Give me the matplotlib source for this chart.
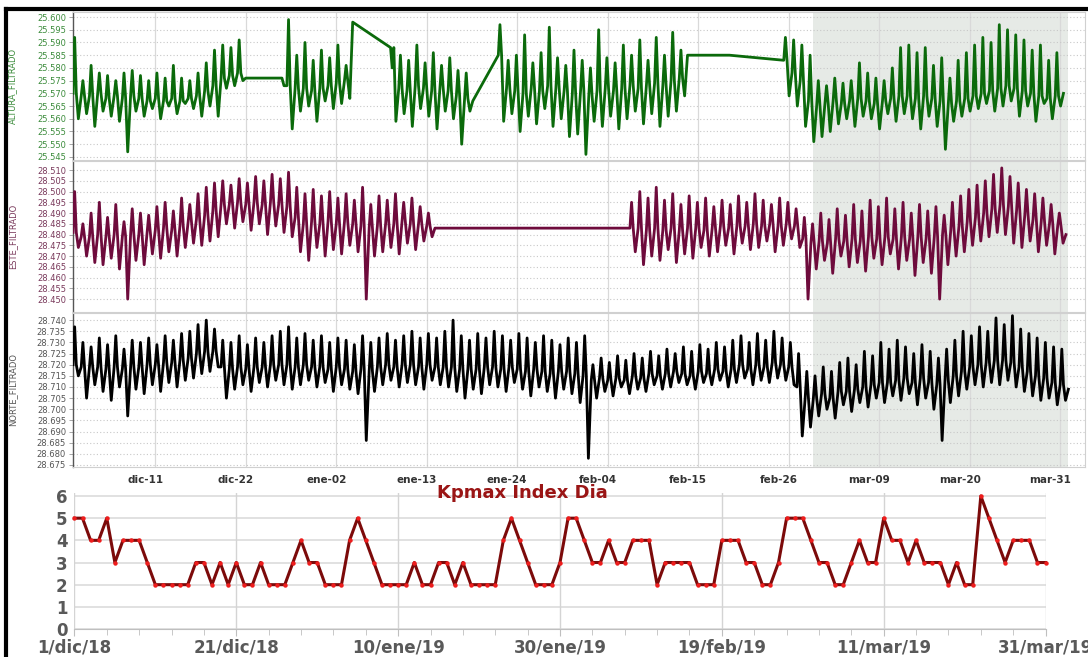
import numpy as np
import matplotlib
matplotlib.use("Agg")
import matplotlib.pyplot as plt
from matplotlib.lines import Line2D
from matplotlib.ticker import MultipleLocator
import matplotlib.transforms as mtransforms

# day 0 = 1/dic/18; values in mm above each panel's reference level.
# every segment: (start day, daily highs, daily lows, daily baseline);
# the baseline list has one extra entry, the last reading of the segment.
green_ref = 25.545
green_segments = [
    (0.0,
     [47, 30, 36, 33, 32, 30, 33, 34, 32, 30, 33, 31, 36, 31, 30, 33, 37, 42, 44, 43, 46],
     [15, 17, 12, 18, 16, 14, 2, 18, 16, 19, 15, 20, 17, 21, 19, 16, 20, 16, 27, 28, 30],
     [25, 24, 24, 25, 23, 24, 23, 24, 23, 22, 23, 22, 23, 22, 23, 24, 26, 28, 31, 32, 33, 31]),
    (25.0,
     [31, 54, 40, 45, 38, 42, 39, 44, 36],
     [28, 11, 18, 20, 14, 22, 19, 21, 23],
     [31, 28, 27, 27, 26, 27, 28, 29, 30, 53]),
    (38.6,
     [35, 40, 38, 44, 37, 41, 36, 39, 34, 33],
     [14, 17, 12, 19, 16, 11, 18, 15, 5, 18],
     [43, 27, 26, 28, 27, 26, 27, 26, 24, 23, 22]),
    (51.7,
     [52, 38, 40, 48, 37, 41, 51, 39, 36, 42, 38, 35, 50, 39, 37, 44, 40, 46, 38, 47,
      40, 49, 42],
     [14, 17, 10, 16, 13, 19, 12, 15, 8, 9, 1, 14, 12, 16, 11, 15, 18, 13, 17, 12,
      16, 18, 24],
     [40, 27, 26, 25, 27, 26, 28, 27, 26, 25, 26, 24, 26, 27, 26, 27, 28, 27, 28, 29,
      28, 30, 31, 40]),
    (79.8, [], [], [40]),
    (86.4,
     [47, 46, 44, 40, 30, 28, 31, 29, 30, 37, 33, 31, 30, 35, 43, 44, 41, 43, 36, 39,
      31, 38, 41, 44, 47, 45, 52, 50, 48, 46, 42, 44, 38, 41],
     [24, 20, 12, 6, 8, 10, 13, 15, 12, 16, 15, 11, 17, 14, 17, 15, 11, 16, 12, 3,
      14, 16, 18, 19, 21, 18, 20, 22, 16, 20, 14, 21, 15, 20],
     [38, 33, 30, 22, 20, 21, 22, 21, 22, 23, 22, 21, 22, 23, 24, 24, 23, 24, 23, 22,
      21, 22, 23, 24, 25, 26, 27, 28, 27, 26, 25, 24, 23, 24, 25]),
]

maroon_ref = 28.450
maroon_segments = [
    (0.0,
     [50, 35, 40, 45, 38, 44, 36, 42, 40, 39, 43, 45, 41, 47, 44, 49, 52, 54, 55, 53,
      56, 54, 57, 55, 58, 56, 59, 52, 49, 51, 48, 50, 47, 49, 46, 52, 44, 48, 46, 49,
      45, 47, 43, 40],
     [24, 20, 17, 16, 19, 14, 0, 18, 16, 21, 19, 22, 20, 24, 26, 25, 27, 29, 35, 33,
      36, 32, 35, 30, 34, 31, 29, 22, 18, 24, 20, 23, 21, 25, 22, 0, 20, 22, 24, 21,
      26, 23, 27, 29],
     [31, 29, 29, 30, 29, 30, 29, 30, 30, 31, 32, 33, 32, 34, 36, 37, 39, 41, 44, 44,
      45, 44, 45, 44, 45, 44, 43, 38, 35, 36, 35, 36, 35, 36, 35, 34, 33, 34, 35, 35,
      36, 35, 35, 34, 33]),
    (67.7,
     [45, 50, 47, 52, 46, 49, 44, 48, 45, 47, 43, 46, 44, 48, 45, 49, 46, 44, 47, 45,
      42, 38, 35, 40, 37, 42, 39, 44, 41, 46, 43, 47, 42, 45, 40, 44, 41, 43, 39, 45,
      48, 51, 53, 55, 58, 61, 57, 54, 51, 49, 47, 44, 40],
     [22, 16, 20, 18, 23, 17, 21, 19, 24, 20, 22, 25, 21, 26, 23, 24, 27, 22, 25, 28,
      24, 0, 14, 18, 12, 20, 15, 17, 13, 19, 16, 21, 14, 18, 11, 17, 12, 0, 16, 20,
      22, 25, 27, 29, 31, 30, 26, 24, 27, 22, 25, 21, 26],
     [33, 33, 32, 33, 32, 33, 32, 33, 33, 32, 33, 34, 33, 34, 34, 35, 34, 35, 34, 35,
      34, 28, 26, 27, 26, 28, 27, 28, 27, 29, 28, 29, 28, 29, 28, 29, 28, 29, 30, 32,
      34, 36, 38, 40, 42, 44, 43, 41, 39, 37, 36, 35, 34, 30]),
]

black_ref = 28.675
black_segments = [
    (0.0,
     [62, 55, 53, 57, 54, 58, 52, 56, 55, 57, 54, 58, 56, 59, 60, 63, 65, 61, 56, 55,
      58, 54, 57, 55, 58, 60, 62, 57, 59, 56, 58, 55, 57, 56, 54, 58, 55, 57, 59, 56,
      58, 60, 57, 59, 57, 60, 65, 58, 56, 59, 57, 60, 58, 56, 59, 57, 55, 58, 56, 54,
      57, 55, 58, 45, 48, 46, 49, 47, 50, 48, 51, 49, 52, 50, 53, 51, 54, 52, 55, 53,
      56, 58, 55, 59, 56, 60, 57, 55, 50, 42, 40, 44, 42, 46, 48, 45, 51, 49, 55, 52,
      56, 53, 50, 54, 51, 48, 52, 56, 60, 58, 62, 60, 66, 63, 67, 61, 59, 57, 55, 53,
      52],
     [40, 30, 36, 33, 29, 35, 22, 34, 32, 36, 33, 37, 35, 38, 39, 41, 42, 44, 30, 34,
      36, 33, 37, 35, 38, 36, 34, 36, 38, 35, 37, 33, 36, 34, 32, 11, 33, 36, 38, 35,
      37, 36, 34, 38, 36, 35, 33, 30, 34, 32, 36, 35, 33, 37, 34, 31, 35, 33, 30, 34,
      32, 28, 3, 30, 33, 31, 35, 32, 34, 33, 36, 34, 35, 37, 36, 34, 37, 36, 38, 35,
      37, 39, 36, 38, 37, 39, 38, 36, 13, 17, 22, 25, 21, 27, 24, 28, 26, 30, 28, 31,
      29, 32, 27, 30, 25, 11, 28, 31, 34, 36, 35, 37, 36, 38, 35, 33, 31, 29, 30, 27,
      29],
     [45, 44, 44, 44, 43, 44, 43, 44, 44, 45, 45, 46, 46, 47, 48, 50, 51, 51, 44, 43,
      44, 43, 44, 44, 45, 45, 45, 44, 45, 44, 44, 43, 44, 43, 42, 43, 42, 44, 45, 44,
      45, 45, 44, 45, 44, 44, 44, 43, 43, 43, 44, 44, 43, 44, 43, 42, 43, 42, 41, 42,
      42, 41, 40, 38, 39, 38, 39, 38, 40, 39, 41, 40, 41, 42, 41, 40, 42, 41, 43, 42,
      43, 45, 43, 45, 44, 46, 45, 44, 35, 30, 30, 32, 30, 33, 33, 34, 35, 36, 37, 37,
      38, 39, 37, 39, 37, 36, 38, 40, 42, 44, 45, 46, 47, 47, 46, 44, 42, 40, 39, 37,
      36, 34]),
]

# daily Kp max, 1/dic/18 .. 31/mar/19
kp_max = [5, 5, 4, 4, 5, 3, 4, 4, 4, 3, 2, 2, 2, 2, 2, 3, 3, 2, 3, 2,
          3, 2, 2, 3, 2, 2, 2, 3, 4, 3, 3, 2, 2, 2, 4, 5, 4, 3, 2, 2,
          2, 2, 3, 2, 2, 3, 3, 2, 3, 2, 2, 2, 2, 4, 5, 4, 3, 2, 2, 2,
          3, 5, 5, 4, 3, 3, 4, 3, 3, 4, 4, 4, 2, 3, 3, 3, 3, 2, 2, 2,
          4, 4, 4, 3, 3, 2, 2, 3, 5, 5, 5, 4, 3, 3, 2, 2, 3, 4, 3, 3,
          5, 4, 4, 3, 4, 3, 3, 3, 2, 3, 2, 2, 6, 5, 4, 3, 4, 4, 4, 3, 3]

top_tick_days = [10, 21, 32, 43, 54, 65, 76, 87, 98, 109, 120]
top_tick_labels = ['dic-11', 'dic-22', 'ene-02', 'ene-13', 'ene-24', 'feb-04',
                   'feb-15', 'feb-26', 'mar-09', 'mar-20', 'mar-31']
kp_tick_days = [0, 20, 40, 60, 80, 100, 120]
kp_tick_labels = ['1/dic/18', '21/dic/18', '10/ene/19', '30/ene/19',
                  '19/feb/19', '11/mar/19', '31/mar/19']

panels = [
    # name, segments, ref, n ticks, line colour, label colour, rect, ylim (mm)
    ('ALTURA_FILTRADO', green_segments, green_ref, 12, '#0b6a0b', '#3c8c3c',
     [0.0671, 0.7565, 0.930, 0.2253], (-1.2, 57.0)),
    ('ESTE_FILTRADO', maroon_segments, maroon_ref, 13, '#6e0b3c', '#7a3a5c',
     [0.0671, 0.5251, 0.930, 0.2298], (-6.0, 64.2)),
    ('NORTE_FILTRADO', black_segments, black_ref, 14, '#000000', '#555555',
     [0.0671, 0.2892, 0.930, 0.2344], (-0.9, 68.2)),
]

# position of baseline / high / baseline / low readings within one day
DAY_STEPS = (0.0, 0.2, 0.4, 0.65)


def join_segments(segments):
    t, v = [], []
    for start, hi, lo, base in segments:
        for k in range(len(hi)):
            for off, val in zip(DAY_STEPS, (base[k], hi[k], base[k], lo[k])):
                t.append(start + k + off)
                v.append(val)
        t.append(start + len(hi))
        v.append(base[-1])
    return np.array(t), np.array(v, dtype=float)


fig = plt.figure(figsize=(10.88, 6.57), dpi=100)

label_shift = mtransforms.ScaledTranslation(-10 / 100, 0, fig.dpi_scale_trans)
axes = []
for i, (name, segs, ref, nticks, lcol, tcol, rect, ylim) in enumerate(panels):
    ax = fig.add_axes(rect)
    axes.append(ax)
    t, v = join_segments(segs)
    ax.axvspan(90, 121, color='#e6eae6', zorder=0, lw=0)
    for d in top_tick_days:
        ax.axvline(d, color='#d9d9d9', lw=0.9, zorder=1)
    ticks_mm = np.arange(nticks) * 5
    for y in ticks_mm:
        ax.axhline(y, color='#c8c8c8', lw=0.8, ls=(0, (1, 2)), zorder=1)
    ax.plot(t, v, color=lcol, lw=2.0, zorder=3)
    ax.set_xlim(0, 123)
    ax.set_ylim(*ylim)
    ax.set_yticks(ticks_mm)
    ax.set_yticklabels(['%.3f' % (ref + m / 1000.0) for m in ticks_mm],
                       fontsize=6, color=tcol)
    ax.tick_params(axis='y', length=3, width=0.6, color='#999999', pad=2)
    ax.set_ylabel(name, fontsize=6, color=tcol)
    for side in ['top', 'right', 'bottom']:
        ax.spines[side].set_color('#d0d0d0')
        ax.spines[side].set_linewidth(0.8)
    ax.spines['left'].set_color('#555555')
    ax.spines['left'].set_linewidth(1.0)
    ax.set_xticks(top_tick_days)
    if i < 2:
        ax.tick_params(axis='x', length=0, labelbottom=False)
    else:
        ax.set_xticklabels(top_tick_labels, fontsize=7.5, fontweight='bold',
                           color='#333333')
        ax.tick_params(axis='x', length=0, pad=6)
        for lab in ax.get_xticklabels():
            lab.set_transform(lab.get_transform() + label_shift)

for ax in axes:
    ax.yaxis.set_label_coords(-0.055, 0.5)

# Kp chart
kx = fig.add_axes([0.0684, 0.0426, 0.8926, 0.2075])
days = np.arange(len(kp_max))
for y in range(0, 7):
    kx.axhline(y, color='#dcdcdc', lw=1.2, zorder=0)
for d in kp_tick_days:
    kx.axvline(d, color='#d4d4d4', lw=1.0, zorder=0)
kx.plot(days, kp_max, color='#7c0a0a', lw=2.2, zorder=3, clip_on=False)
kx.plot(days, kp_max, 'o', color='#ee1c1c', ms=3.2, mec='none', zorder=4,
        clip_on=False)
kx.set_xlim(0, 120)
kx.set_ylim(0, 6.15)
kx.set_yticks(range(0, 7))
kx.set_yticklabels([str(k) for k in range(0, 7)], fontsize=12,
                   fontweight='bold', color='#595959')
kx.set_xticks(kp_tick_days)
kx.set_xticklabels(kp_tick_labels, fontsize=12, fontweight='bold', color='#595959')
kx.xaxis.set_minor_locator(MultipleLocator(4))
kx.tick_params(axis='x', which='major', length=5, color='#bfbfbf', pad=2)
kx.tick_params(axis='x', which='minor', length=4, color='#bfbfbf')
kx.tick_params(axis='y', length=0, pad=5)
for side in ['top', 'right', 'left']:
    kx.spines[side].set_visible(False)
kx.spines['bottom'].set_color('#bfbfbf')
fig.text(0.48, 0.249, 'Kpmax Index Dia', fontsize=13, fontweight='bold',
         color='#9a1515', ha='center', va='center')

# black frame along the left and top edges
fig.add_artist(Line2D([6 / 1088, 6 / 1088], [0, 1 - 9 / 657], color='black',
                      lw=3, transform=fig.transFigure))
fig.add_artist(Line2D([6 / 1088, 1], [1 - 9 / 657, 1 - 9 / 657], color='black',
                      lw=3, transform=fig.transFigure))

fig.savefig('out.png', dpi=100)
